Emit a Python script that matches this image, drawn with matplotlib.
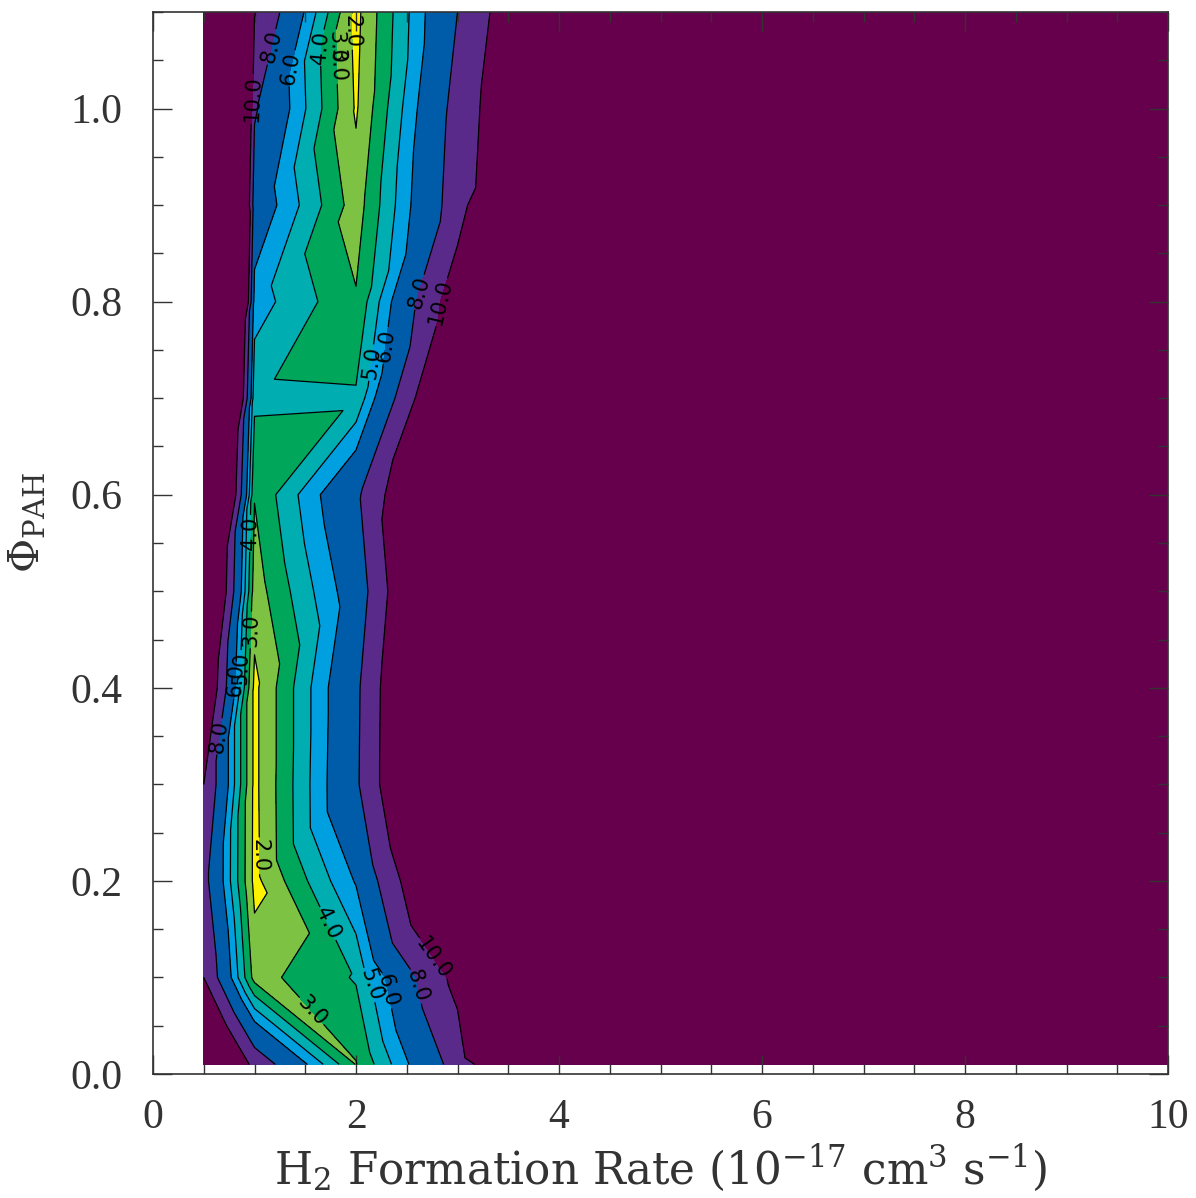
import numpy as np
import matplotlib
matplotlib.use("Agg")
import matplotlib.pyplot as plt
import matplotlib.tri as mtri
from matplotlib.ticker import MultipleLocator

# ---------------- data ----------------
rate = [0.5, 1.0, 2.0, 3.0, 4.0, 5.0, 6.0, 7.0, 8.0, 9.0, 10.0]      # H2 formation rate grid
phi = [0.01, 0.1, 0.2, 0.3, 0.4, 0.5, 0.6, 0.7, 0.8, 0.9, 1.0, 1.1]  # Phi_PAH grid

z_p001 = [16.0, 9.3, 2.95, 8.8, 15.9, 30, 30, 30, 30, 30, 30]
z_p010 = [10.0, 2.6, 4.1, 10.7, 25, 30, 30, 30, 30, 30, 30]
z_p020 = [8.65, 1.7, 6.1, 15.0, 25, 30, 30, 30, 30, 30, 30]
z_p030 = [10.0, 1.75, 7.7, 17.6, 25, 30, 30, 30, 30, 30, 30]
z_p040 = [13.0, 1.75, 7.6, 17.6, 25, 30, 30, 30, 30, 30, 30]
z_p050 = [16.0, 2.48, 6.8, 17.0, 25, 30, 30, 30, 30, 30, 30]
z_p060 = [22.0, 3.05, 7.6, 16.0, 25, 30, 30, 30, 30, 30, 30]
z_p070 = [30.5, 4.22, 4.14, 14.2, 25, 30, 30, 30, 30, 30, 30]
z_p080 = [43.0, 5.5, 3.1, 11.4, 25, 30, 30, 30, 30, 30, 30]
z_p090 = [37.0, 7.0, 2.47, 9.0, 19.0, 30, 30, 30, 30, 30, 30]
z_p100 = [53.0, 8.2, 1.88, 8.7, 14.6, 30, 30, 30, 30, 30, 30]
z_p110 = [60.0, 10.1, 1.7, 8.0, 14.25, 30, 30, 30, 30, 30, 30]

# grid cells (lower phi index, lower rate index) whose triangulation diagonal runs
# from upper-left to lower-right
flipped_cells = [(0, 1), (1, 1), (5, 2)]

levels = [2.0, 3.0, 4.0, 5.0, 6.0, 8.0, 10.0]
band_colors = ["#fff200", "#7dc242", "#00a65a", "#00adb0", "#00a0e0",
               "#005ba8", "#5a2a8a", "#66004c"]

label_spots = [(0.96, 1.01), (1.20, 1.063), (1.42, 1.04), (1.60, 1.063), (1.71, 1.063),
               (1.82, 1.06), (1.97, 1.08), (2.56, 0.812), (2.80, 0.80), (2.14, 0.737),
               (2.27, 0.755), (0.955, 0.56), (0.955, 0.46), (0.81, 0.408), (0.88, 0.42),
               (0.64, 0.35), (1.04, 0.226), (1.69, 0.154), (1.57, 0.066), (2.11, 0.092),
               (2.33, 0.087), (2.63, 0.092), (2.80, 0.123)]

# ---------------- build triangulated grid ----------------
Z = np.array([z_p001, z_p010, z_p020, z_p030, z_p040, z_p050, z_p060,
              z_p070, z_p080, z_p090, z_p100, z_p110], dtype=float)
X, Y = np.meshgrid(rate, phi)
ny, nx = Z.shape
tris = []
for i in range(ny - 1):
    for j in range(nx - 1):
        a = i * nx + j
        b = a + 1
        c = (i + 1) * nx + j + 1
        d = (i + 1) * nx + j
        if (i, j) in flipped_cells:
            tris.append([a, b, d])
            tris.append([b, c, d])
        else:
            tris.append([a, b, c])
            tris.append([a, c, d])
tri = mtri.Triangulation(X.ravel(), Y.ravel(), np.array(tris))

# ---------------- figure ----------------
plt.rcParams["mathtext.fontset"] = "dejavuserif"

fig = plt.figure(figsize=(11.96, 11.98), dpi=100)
ax = fig.add_axes([153 / 1196, 1 - 1074 / 1198, 1015 / 1196, 1062 / 1198])

fill_levels = [-1e3] + levels + [1e4]
ax.tricontourf(tri, Z.ravel(), levels=fill_levels, colors=band_colors)
cs = ax.tricontour(tri, Z.ravel(), levels=levels, colors="k", linewidths=0.9)
lbls = ax.clabel(cs, fmt="%.1f", manual=label_spots, inline=True, inline_spacing=2,
                 fontsize=15)
for t in lbls:
    t.set_fontfamily("DejaVu Sans")

ax.set_xlim(0, 10)
ax.set_ylim(0, 1.1)
ax.xaxis.set_major_locator(MultipleLocator(2))
ax.xaxis.set_minor_locator(MultipleLocator(0.5))
ax.yaxis.set_major_locator(MultipleLocator(0.2))
ax.yaxis.set_minor_locator(MultipleLocator(0.05))
ax.xaxis.set_major_formatter(plt.FuncFormatter(lambda v, p: f"{v:.0f}"))
ax.yaxis.set_major_formatter(plt.FuncFormatter(lambda v, p: f"{v:.1f}"))
ax.tick_params(which="both", direction="in", top=True, right=True, color="#333333")
ax.tick_params(which="major", length=14, width=1, labelsize=30)
ax.tick_params(axis="y", which="major", pad=22)
ax.tick_params(axis="x", which="major", pad=18)
ax.tick_params(which="minor", length=7, width=1)
for lab in ax.get_xticklabels() + ax.get_yticklabels():
    lab.set_fontfamily("Liberation Serif")
    lab.set_color("#333333")
for s in ax.spines.values():
    s.set_color("#333333")
    s.set_linewidth(1.2)

ax.set_xlabel(r"H$_2$ Formation Rate (10$^{-17}$ cm$^3$ s$^{-1}$)",
              fontsize=31.5, fontfamily="DejaVu Serif", color="#333333")
ax.xaxis.set_label_coords(0.5, -0.065)
ax.set_ylabel(r"$\Phi_{\rm PAH}$", fontsize=30, color="#333333")
ax.yaxis.set_label_coords(-0.103, 0.519)

fig.savefig("out.png", dpi=100)
